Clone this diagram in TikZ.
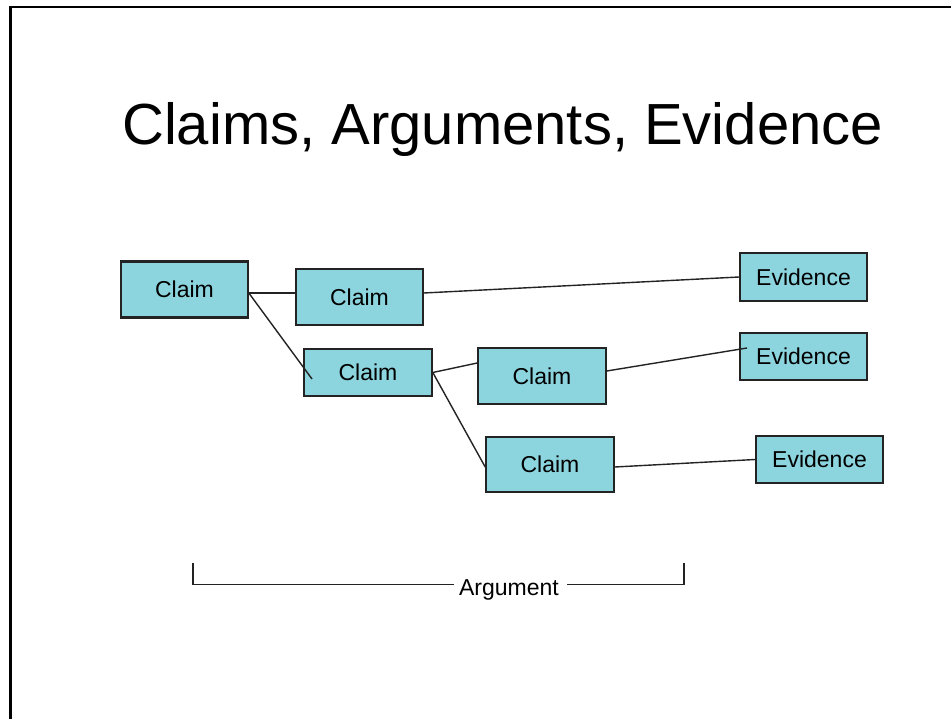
\documentclass[tikz,border=0pt]{standalone}
\usepackage{fontspec}
\setmainfont{Liberation Sans}
\usetikzlibrary{calc}
\definecolor{boxfill}{RGB}{140,212,222}
\definecolor{boxline}{RGB}{35,35,35}
\tikzset{
  cbox/.style={draw=boxline, line width=1.6pt, fill=boxfill, inner sep=0pt,
    font=\fontsize{23}{26}\selectfont, text=black},
  conn/.style={draw=boxline, line width=1.4pt},
  frameline/.style={draw=black, line width=2.4pt},
}
\begin{document}
\begin{tikzpicture}[x=1pt,y=-1pt]
\useasboundingbox (0,0) rectangle (951,719);
\fill[white] (0,0) rectangle (951,719);
\draw[frameline] (951,7) -- (10.5,7) -- (10.5,719);
\node[anchor=base west, inner sep=0pt, font=\fontsize{58}{62}\selectfont] (title) at (122,145) {Claims, Arguments, Evidence};
% boxes
\node[cbox, line width=2.4pt, minimum width=127pt, minimum height=56pt] (c1) at (184.5,289.5) {Claim};
\node[cbox, minimum width=127pt, minimum height=56pt] (c2) at (359.5,297) {Claim};
\node[cbox, minimum width=128pt, minimum height=47pt] (c3) at (368,372.5) {Claim};
\node[cbox, minimum width=128pt, minimum height=56pt] (c4) at (542,376) {Claim};
\node[cbox, minimum width=128pt, minimum height=55pt] (c5) at (550,464.5) {Claim};
\node[cbox, minimum width=127pt, minimum height=48pt] (e1) at (803.5,277) {Evidence};
\node[cbox, minimum width=127pt, minimum height=47pt] (e2) at (803.5,356.5) {Evidence};
\node[cbox, minimum width=127pt, minimum height=47pt] (e3) at (819.5,459.5) {Evidence};
% inner end points
\coordinate (c3in) at ($(c3.center)+(-56,6.5)$);
\coordinate (e2in) at ($(e2.center)+(-56.5,-8.5)$);
% connectors
\draw[conn] ([yshift=-3.5pt]c1.east) -- ([yshift=4pt]c2.west);
\draw[conn] ([yshift=-4pt]c1.east) -- (c3in);
\draw[conn] ([yshift=4pt]c2.east) -- (e1.west);
\draw[conn] (c3.east) -- ([yshift=13pt]c4.west);
\draw[conn] (c3.east) -- ([yshift=-2.5pt]c5.west);
\draw[conn] ([yshift=5pt]c4.east) -- (e2in);
\draw[conn] ([yshift=-2.5pt]c5.east) -- (e3.west);
% argument bracket
\node[inner sep=0pt, font=\fontsize{23}{26}\selectfont] (arg) at (509,590) {Argument};
\coordinate (a1) at (193,563);
\coordinate (a2) at (454,584.5);
\coordinate (a3) at (567,584.5);
\coordinate (a4) at (684,563);
\draw[conn] (a1) |- (a2);
\draw[conn] (a3) -| (a4);
\end{tikzpicture}
\end{document}
